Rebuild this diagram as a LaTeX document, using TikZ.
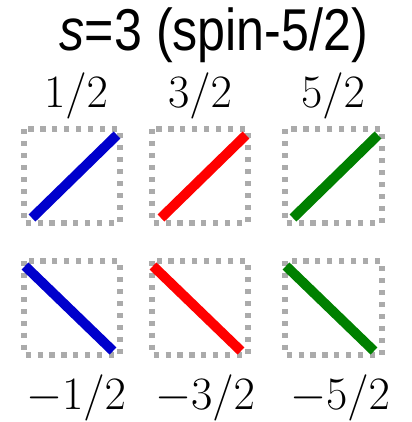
\RequirePackage{fix-cm}
\documentclass[tikz,border=0pt]{standalone}
\usepackage{fontspec}
\newfontfamily\titlefont{Liberation Sans}[FakeStretch=0.85]
\usepackage{tikz}
\definecolor{spinblue}{RGB}{0,0,204}
\definecolor{spinred}{RGB}{255,0,0}
\definecolor{spingreen}{RGB}{0,128,0}

\begin{document}
\begin{tikzpicture}[
  cellbox/.style={black!33,line width=3.6pt,dash pattern=on 3.6pt off 4.9pt},
  spinbar/.style={line width=7pt},
  spinlabel/.style={anchor=base,inner sep=0pt,font=\fontsize{33}{40}\selectfont}]
\useasboundingbox (0.000,0.000) rectangle (10.300,-10.550);
\node[anchor=base,inner sep=0pt,font=\titlefont\fontsize{42}{50}\selectfont] (title) at (5.350,-1.250) {\textit{s}=3 (spin-5/2)};
\node[spinlabel] (up1) at (1.900,-2.675) {$1/2$};
\node[spinlabel] (up3) at (5.000,-2.675) {$3/2$};
\node[spinlabel] (up5) at (8.325,-2.675) {$5/2$};
\draw[cellbox] (0.600,-3.225) rectangle (3.000,-5.575);
\draw[cellbox] (3.800,-3.225) rectangle (6.200,-5.575);
\draw[cellbox] (7.125,-3.225) rectangle (9.550,-5.575);
\draw[spinbar,spinblue] (0.800,-5.450) -- (2.925,-3.375);
\draw[spinbar,spinred] (4.025,-5.450) -- (6.150,-3.375);
\draw[spinbar,spingreen] (7.325,-5.450) -- (9.450,-3.375);
\draw[cellbox] (0.600,-6.525) rectangle (3.000,-8.875);
\draw[cellbox] (3.800,-6.525) rectangle (6.200,-8.875);
\draw[cellbox] (7.125,-6.525) rectangle (9.550,-8.875);
\draw[spinbar,spinblue] (0.625,-6.650) -- (2.825,-8.775);
\draw[spinbar,spinred] (3.825,-6.650) -- (6.025,-8.775);
\draw[spinbar,spingreen] (7.150,-6.650) -- (9.350,-8.775);
\node[spinlabel] (dn1) at (1.900,-10.225) {$-1/2$};
\node[spinlabel] (dn3) at (5.125,-10.225) {$-3/2$};
\node[spinlabel] (dn5) at (8.500,-10.225) {$-5/2$};
\end{tikzpicture}
\end{document}
